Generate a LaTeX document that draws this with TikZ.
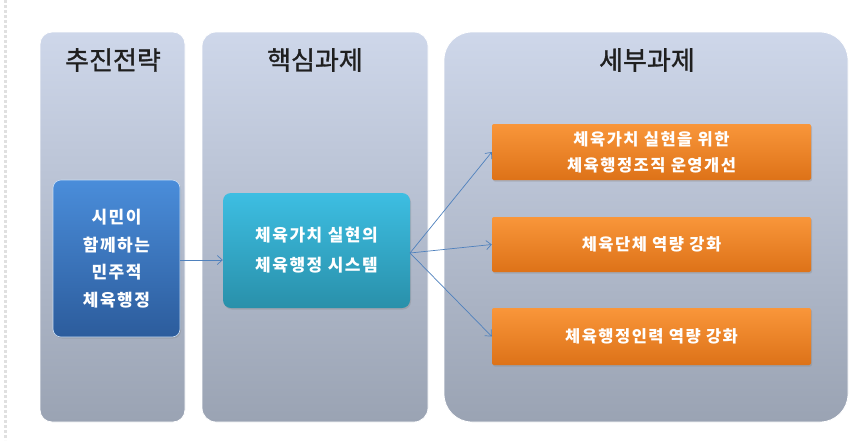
\documentclass[tikz,border=0pt]{standalone}
\usepackage{fontspec}
\setmainfont{Noto Sans CJK KR}
\newfontfamily\kr{Noto Sans CJK KR}
\newfontfamily\krhead[FakeBold=1.2]{Noto Sans CJK KR}
\newfontfamily\krlbl[LetterSpace=9]{Noto Sans CJK KR}
\usetikzlibrary{arrows.meta,shadows}
\definecolor{paneltop}{HTML}{CED7EA}
\definecolor{panelbot}{HTML}{9AA3B3}
\definecolor{arrowc}{HTML}{4F81BD}
\definecolor{orngtop}{HTML}{F9963A}
\definecolor{orngbot}{HTML}{DD7218}
\definecolor{bluetop}{HTML}{4A8DDA}
\definecolor{bluebot}{HTML}{2C5C9C}
\definecolor{cyantop}{HTML}{3DBEE2}
\definecolor{cyanbot}{HTML}{2990AA}
\tikzset{
  x=1pt,y=-1pt,
  panel/.style={draw=white,line width=0.8pt,top color=paneltop,bottom color=panelbot,inner sep=0pt},
  head/.style={font=\krhead\fontsize{26}{28}\selectfont,text=black!88},
  lbl/.style={font=\krlbl\bfseries\fontsize{17}{27.5}\selectfont,text=white,align=center,inner sep=0pt,
    drop shadow={opacity=0.3,shadow xshift=1pt,shadow yshift=-1.5pt}},
  bluebox/.style={lbl,rounded corners=8pt,top color=bluetop,bottom color=bluebot,draw=white!70!bluetop,line width=0.6pt},
  cyanbox/.style={lbl,rounded corners=8pt,draw=none,top color=cyantop,bottom color=cyanbot,font=\krlbl\bfseries\fontsize{17}{30}\selectfont},
  orbox/.style={lbl,rounded corners=2pt,draw=none,top color=orngtop,bottom color=orngbot,font=\krlbl\bfseries\fontsize{16.5}{26}\selectfont},
  conn/.style={draw=arrowc,line width=0.7pt,-{Straight Barb[length=5pt,width=9pt]}}
}
\begin{document}
\begin{tikzpicture}
\useasboundingbox[fill=white] (0,0) rectangle (865,440);
\draw[black!12,dotted,line width=3pt] (5,0) -- (5,440);
% panels
\node[panel,rounded corners=12pt,minimum width=145pt,minimum height=390pt] (p1) at (112.5,227) {};
\node[panel,rounded corners=14pt,minimum width=226pt,minimum height=390pt] (p2) at (315,227) {};
\node[panel,rounded corners=28pt,minimum width=404pt,minimum height=390pt] (p3) at (646,227) {};
\node[head] (h1) at (113,60) {추진전략};
\node[head] (h2) at (315,60) {핵심과제};
\node[head] (h3) at (647,60) {세부과제};
% boxes
\node[bluebox,minimum width=127pt,minimum height=157pt] (s) at (116.5,258.5) {시민이\\함께하는\\민주적\\체육행정};
\node[cyanbox,minimum width=187pt,minimum height=115pt] (c) at (316.5,250.5) {체육가치 실현의\\체육행정 시스템};
\node[orbox,minimum width=319pt,minimum height=56pt] (o1) at (651.5,152) {체육가치 실현을 위한\\체육행정조직 운영개선};
\node[orbox,minimum width=319pt,minimum height=55pt] (o2) at (651.5,244.5) {체육단체 역량 강화};
\node[orbox,minimum width=319pt,minimum height=57pt] (o3) at (651.5,336.5) {체육행정인력 역량 강화};
% connectors
\draw[conn] (s.east |- 0,260) -- (c.west |- 0,260);
\coordinate (cr) at (410,253);
\draw[conn] (cr) -- (o1.west);
\draw[conn] (cr) -- (o2.west);
\draw[conn] (cr) -- (o3.west);
\end{tikzpicture}
\end{document}
